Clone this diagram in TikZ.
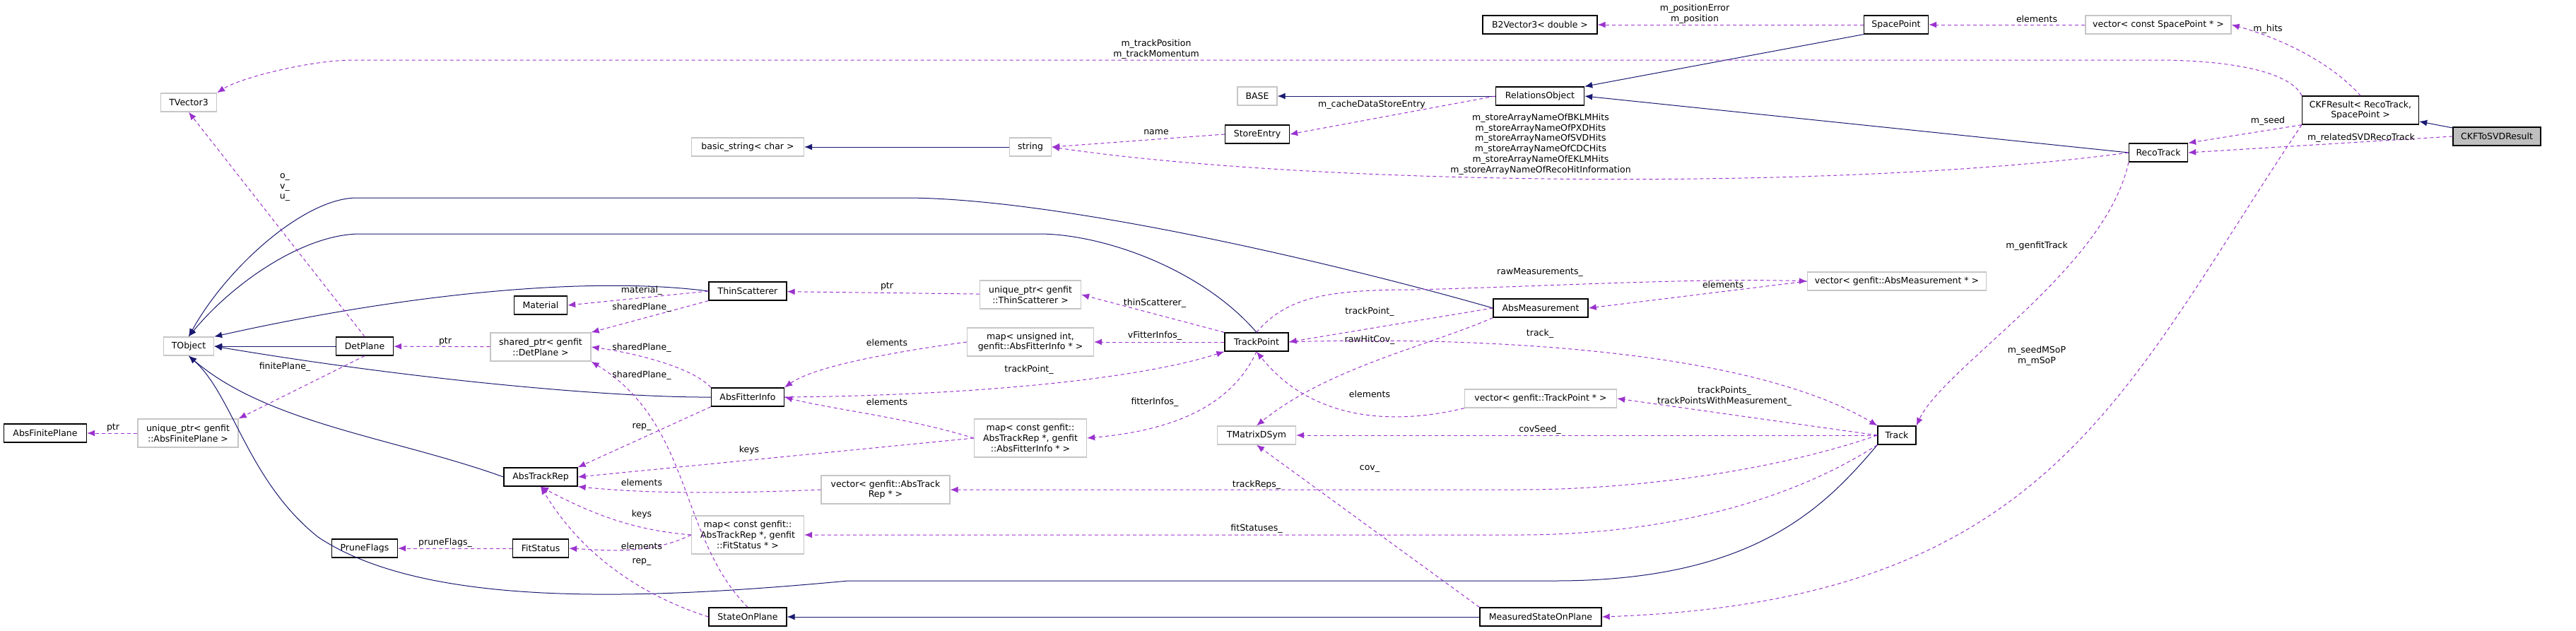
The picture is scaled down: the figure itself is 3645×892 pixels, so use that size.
\documentclass[tikz,border=0pt]{standalone}
\usepackage{fontspec}
\setmainfont{DejaVu Sans}
\usetikzlibrary{arrows.meta}
\definecolor{navy}{HTML}{191970}
\definecolor{usec}{HTML}{9A32CD}
\begin{document}
\begin{tikzpicture}[x=1pt,y=-1pt,
  font=\fontsize{12.5}{14.8}\selectfont,
  cls/.style={draw=black,line width=1.3pt,fill=white,inner sep=0pt,align=center,minimum height=26pt},
  ext/.style={draw=gray!45,line width=1.3pt,fill=white,inner sep=0pt,align=center,minimum height=26pt},
  inh/.style={draw=navy,line width=1pt,-{Latex[length=11pt,width=9pt]}},
  use/.style={draw=usec,line width=1pt,dash pattern=on 5pt off 4pt,-{Latex[length=11pt,width=9pt]}},
  lbl/.style={inner sep=0pt,align=center}]
\useasboundingbox (0,0) rectangle (3645,892);
% nodes
\node[ext,minimum width=79] (tv3) at (267,145) {TVector3};
\node[ext,minimum width=159] (bstr) at (1058,208) {basic\_string< char >};
\node[cls,minimum width=110] (ts) at (1058,412) {ThinScatterer};
\node[cls,minimum width=75] (mat) at (765,432) {Material};
\node[ext,minimum width=71] (tobj) at (267,490) {TObject};
\node[cls,minimum width=81] (dp) at (516,490) {DetPlane};
\node[ext,minimum width=142,minimum height=40] (spdp) at (765,491) {shared\_ptr< genfit\\::DetPlane >};
\node[cls,minimum width=103] (afi) at (1058,562) {AbsFitterInfo};
\node[ext,minimum width=142,minimum height=40] (upafp) at (266,613) {unique\_ptr< genfit\\::AbsFinitePlane >};
\node[cls,minimum width=117] (afp) at (64,613) {AbsFinitePlane};
\node[cls,minimum width=104] (atr) at (765,675) {AbsTrackRep};
\node[ext,minimum width=159,minimum height=54] (mapfs) at (1058,757) {map< const genfit::\\AbsTrackRep *, genfit\\::FitStatus * >};
\node[cls,minimum width=93] (pf) at (516,776) {PruneFlags};
\node[cls,minimum width=79] (fs) at (765,776) {FitStatus};
\node[cls,minimum width=110] (sop) at (1058,873) {StateOnPlane};
\node[ext,minimum width=182,minimum height=40] (vatr) at (1253,693) {vector< genfit::AbsTrack\\Rep * >};
\node[cls,minimum width=162] (b2v) at (2179,35) {B2Vector3< double >};
\node[ext,minimum width=56] (base) at (1779,136) {BASE};
\node[cls,minimum width=125] (ro) at (2179,136) {RelationsObject};
\node[cls,minimum width=91] (se) at (1779,190) {StoreEntry};
\node[ext,minimum width=59] (str) at (1458,208) {string};
\node[ext,minimum width=143,minimum height=40] (upts) at (1458,417) {unique\_ptr< genfit\\::ThinScatterer >};
\node[cls,minimum width=134] (am) at (2180,436) {AbsMeasurement};
\node[ext,minimum width=179,minimum height=40] (mapui) at (1458,484) {map< unsigned int,\\genfit::AbsFitterInfo * >};
\node[cls,minimum width=90] (tp) at (1778,484) {TrackPoint};
\node[ext,minimum width=159,minimum height=54] (mapafi) at (1458,620) {map< const genfit::\\AbsTrackRep *, genfit\\::AbsFitterInfo * >};
\node[ext,minimum width=111] (tmd) at (1778,616) {TMatrixDSym};
\node[ext,minimum width=215] (vtp) at (2180,564) {vector< genfit::TrackPoint * >};
\node[cls,minimum width=172] (msop) at (2180,873) {MeasuredStateOnPlane};
\node[cls,minimum width=91] (sp) at (2683,35) {SpacePoint};
\node[ext,minimum width=206] (vcsp) at (3054,35) {vector< const SpacePoint * >};
\node[cls,minimum width=165,minimum height=40] (ckf) at (3340,156) {CKFResult< RecoTrack,\\SpacePoint >};
\node[cls,minimum width=124,fill=gray!50] (ckfsvd) at (3533,193) {CKFToSVDResult};
\node[cls,minimum width=83] (rt) at (3054,216) {RecoTrack};
\node[ext,minimum width=253] (vam) at (2684,398) {vector< genfit::AbsMeasurement * >};
\node[cls,minimum width=54] (trk) at (2684,616) {Track};
% inheritance
\draw[inh] (ckfsvd) -- (ckf);
\draw[inh] (sp.south west) -- (ro.north east);
\draw[inh] (rt.west) -- (ro.east);
\draw[inh] (ro) -- (base);
\draw[inh] (str) -- (bstr);
\draw[inh] (msop) -- (sop);
\draw[inh] (dp) -- (tobj);
\draw[inh] (tp.north) .. controls (1700,380) and (1560,331) .. (1470,331) -- (510,331) .. controls (430,331) and (330,400) .. (tobj.north);
\draw[inh] (am.west) .. controls (1900,375) and (1500,280) .. (1280,280) -- (505,280) .. controls (430,280) and (320,380) .. (tobj.north);
\draw[inh] (ts.west) .. controls (850,392) and (600,410) .. (tobj.north east);
\draw[inh] (afi.west) .. controls (880,563) and (600,540) .. (tobj.east);
\draw[inh] (atr.west) .. controls (560,620) and (380,600) .. (tobj.south);
\draw[inh] (trk.south west) .. controls (2580,720) and (2480,822) .. (2200,822) -- (1200,822) .. controls (900,850) and (600,860) .. (450,760) .. controls (350,680) and (330,560) .. (tobj.south);
% usage
\draw[use] (sp) -- (b2v);
\node[lbl] at (2398,20) {m\_positionError\\m\_position};
\draw[use] (vcsp) -- (sp);
\node[lbl] at (2882,27) {elements};
\draw[use] (ckf.north) .. controls (3300,90) and (3230,55) .. (vcsp.east);
\node[lbl] at (3209,41) {m\_hits};
\draw[use] (ckf.north west) .. controls (3240,100) and (3150,85) .. (3050,85) -- (500,85) .. controls (440,85) and (340,110) .. (tv3.north east);
\node[lbl] at (1636,70) {m\_trackPosition\\m\_trackMomentum};
\draw[use] (ckf.south west) -- (rt.north east);
\node[lbl] at (3209,171) {m\_seed};
\draw[use] (ckfsvd.west) -- (rt.east);
\node[lbl] at (3341,195) {m\_relatedSVDRecoTrack};
\draw[use] (ckf.south west) .. controls (3000,560) and (2900,850) .. (msop.east);
\node[lbl] at (2882,504) {m\_seedMSoP\\m\_mSoP};
\draw[use] (rt.south west) .. controls (2980,380) and (2750,520) .. (trk.north east);
\node[lbl] at (2882,348) {m\_genfitTrack};
\draw[use] (rt.west) .. controls (2600,272) and (1850,262) .. (str.east);
\node[lbl] at (2180,204) {m\_storeArrayNameOfBKLMHits\\m\_storeArrayNameOfPXDHits\\m\_storeArrayNameOfSVDHits\\m\_storeArrayNameOfCDCHits\\m\_storeArrayNameOfEKLMHits\\m\_storeArrayNameOfRecoHitInformation};
\draw[use] (ro.west) -- (se.east);
\node[lbl] at (1941,148) {m\_cacheDataStoreEntry};
\draw[use] (se.west) -- (str.east);
\node[lbl] at (1636,187) {name};
\draw[use] (dp.north) -- (tv3.south);
\node[lbl] at (403,265) {o\_\\v\_\\u\_};
\draw[use] (dp.south) -- (upafp.north east);
\node[lbl] at (403,519) {finitePlane\_};
\draw[use] (upafp) -- (afp);
\node[lbl] at (160,605) {ptr};
\draw[use] (spdp) -- (dp);
\node[lbl] at (630,483) {ptr};
\draw[use] (ts.west) -- (mat.east);
\node[lbl] at (908,411) {material\_};
\draw[use] (ts.south west) -- (spdp.north east);
\node[lbl] at (908,435) {sharedPlane\_};
\draw[use] (afi.north west) .. controls (980,520) and (900,500) .. (spdp.east);
\node[lbl] at (908,492) {sharedPlane\_};
\draw[use] (sop.north) .. controls (960,760) and (980,600) .. (spdp.south east);
\node[lbl] at (908,531) {sharedPlane\_};
\draw[use] (afi.south west) -- (atr.north east);
\node[lbl] at (908,604) {rep\_};
\draw[use] (mapafi.west) -- (atr.east);
\node[lbl] at (1060,637) {keys};
\draw[use] (vatr.west) .. controls (1000,700) and (900,697) .. (atr.south east);
\node[lbl] at (908,683) {elements};
\draw[use] (mapfs.west) .. controls (920,752) and (860,740) .. (atr.south);
\node[lbl] at (908,728) {keys};
\draw[use] (mapfs.west) .. controls (920,785) and (860,779) .. (fs.east);
\node[lbl] at (908,773) {elements};
\draw[use] (sop.west) .. controls (900,840) and (820,780) .. (atr.south);
\node[lbl] at (908,795) {rep\_};
\draw[use] (fs) -- (pf);
\node[lbl] at (630,768) {pruneFlags\_};
\draw[use] (mapui.west) .. controls (1250,500) and (1150,520) .. (afi.north east);
\node[lbl] at (1255,485) {elements};
\draw[use] (mapafi.west) .. controls (1280,590) and (1180,580) .. (afi.east);
\node[lbl] at (1255,569) {elements};
\draw[use] (afi.east) .. controls (1350,560) and (1600,540) .. (tp.south west);
\node[lbl] at (1456,523) {trackPoint\_};
\draw[use] (tp) -- (mapui);
\node[lbl] at (1634,475) {vFitterInfos\_};
\draw[use] (tp.north west) -- (upts.east);
\node[lbl] at (1634,429) {thinScatterer\_};
\draw[use] (upts) -- (ts);
\node[lbl] at (1255,405) {ptr};
\draw[use] (tp.south) .. controls (1740,580) and (1650,610) .. (mapafi.east);
\node[lbl] at (1634,569) {fitterInfos\_};
\draw[use] (tp.north) .. controls (1820,420) and (1880,410) .. (2000,410) .. controls (2200,405) and (2400,393) .. (vam.west);
\node[lbl] at (2179,385) {rawMeasurements\_};
\draw[use] (vam.west) -- (am.east);
\node[lbl] at (2438,403) {elements};
\draw[use] (am.west) -- (tp.east);
\node[lbl] at (1938,441) {trackPoint\_};
\draw[use] (am.south west) .. controls (2020,490) and (1880,520) .. (tmd.north);
\node[lbl] at (1938,481) {rawHitCov\_};
\draw[use] (tp.east) .. controls (2000,478) and (2450,480) .. (trk.north west);
\node[lbl] at (2179,472) {track\_};
\draw[use] (vtp.south west) .. controls (1980,600) and (1860,600) .. (tp.south);
\node[lbl] at (1938,558) {elements};
\draw[use] (trk.west) -- (vtp.east);
\node[lbl] at (2440,561) {trackPoints\_\\trackPointsWithMeasurement\_};
\draw[use] (trk.west) -- (tmd.east);
\node[lbl] at (2179,608) {covSeed\_};
\draw[use] (trk.west) .. controls (2500,670) and (2300,693) .. (2150,693) -- (vatr.east);
\node[lbl] at (1778,686) {trackReps\_};
\draw[use] (trk.south west) .. controls (2500,730) and (2300,757) .. (2150,757) -- (mapfs.east);
\node[lbl] at (1778,748) {fitStatuses\_};
\draw[use] (msop.north west) -- (tmd.south);
\node[lbl] at (1938,663) {cov\_};
\end{tikzpicture}
\end{document}
